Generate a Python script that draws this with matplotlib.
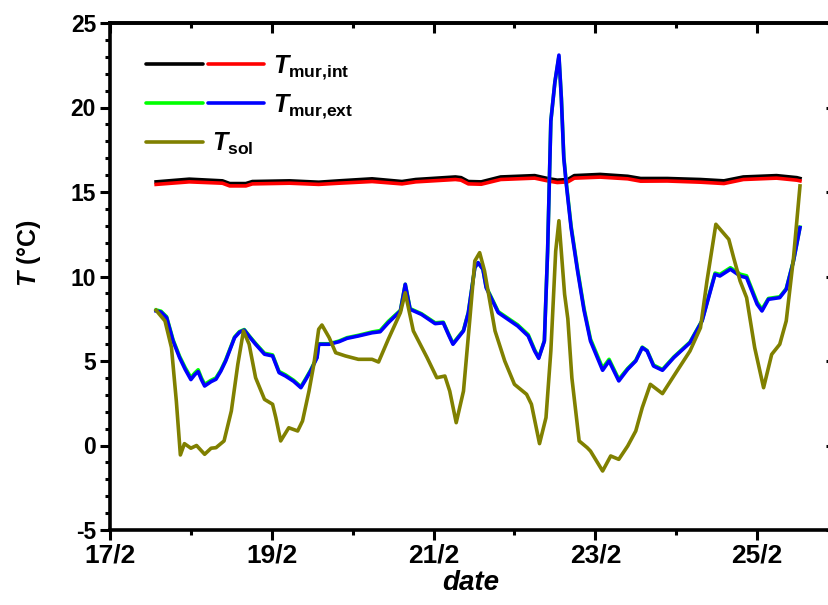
import matplotlib
matplotlib.use("Agg")
import matplotlib.pyplot as plt
from matplotlib.ticker import MultipleLocator, FixedLocator, FixedFormatter

plt.rcParams["font.family"] = ["Liberation Sans", "DejaVu Sans"]
plt.rcParams["font.weight"] = "bold"
plt.rcParams["axes.unicode_minus"] = False
plt.rcParams["mathtext.fontset"] = "custom"
plt.rcParams["mathtext.it"] = "Liberation Sans:italic:bold"
plt.rcParams["mathtext.rm"] = "Liberation Sans:bold"
plt.rcParams["mathtext.bf"] = "Liberation Sans:bold"

# ── data (day of February, temperature in °C) ──
t_int = [17.57, 17.98, 18.39, 18.48, 18.68, 18.76, 19.22, 19.58, 19.83, 20.24,
         20.61, 20.78, 21.27, 21.34, 21.43, 21.59, 21.83, 22.25, 22.41, 22.53,
         22.66, 22.74, 23.06, 23.40, 23.56, 23.89, 24.30, 24.59, 24.83, 25.24,
         25.49, 25.53]
T_int_black = [15.60, 15.76, 15.66, 15.50, 15.50, 15.62, 15.66, 15.58, 15.66, 15.78,
               15.62, 15.74, 15.89, 15.85, 15.62, 15.60, 15.89, 15.97, 15.80, 15.70,
               15.74, 15.97, 16.04, 15.93, 15.80, 15.80, 15.74, 15.66, 15.89, 15.97,
               15.85, 15.80]
T_int_red = [15.45, 15.60, 15.52, 15.36, 15.36, 15.48, 15.52, 15.45, 15.52, 15.62,
             15.48, 15.60, 15.74, 15.70, 15.48, 15.46, 15.74, 15.82, 15.66, 15.56,
             15.60, 15.82, 15.88, 15.78, 15.64, 15.65, 15.58, 15.50, 15.74, 15.82,
             15.70, 15.66]

t_ext = [17.57, 17.63, 17.70, 17.78, 17.86, 17.93, 18.00, 18.05, 18.09, 18.13,
         18.17, 18.25, 18.31, 18.37, 18.43, 18.54, 18.60, 18.66, 18.73, 18.80,
         18.91, 19.01, 19.09, 19.17, 19.27, 19.36, 19.42, 19.48, 19.56, 19.58,
         19.71, 19.83, 19.93, 20.07, 20.24, 20.34, 20.44, 20.59, 20.65, 20.71,
         20.85, 21.02, 21.12, 21.19, 21.24, 21.37, 21.43, 21.51, 21.55, 21.61,
         21.65, 21.80, 22.04, 22.17, 22.25, 22.30, 22.37, 22.41, 22.45, 22.50,
         22.55, 22.58, 22.61, 22.64, 22.70, 22.78, 22.86, 22.94, 23.09, 23.17,
         23.29, 23.40, 23.50, 23.58, 23.64, 23.72, 23.83, 23.97, 24.17, 24.32,
         24.48, 24.54, 24.67, 24.79, 24.87, 25.00, 25.06, 25.14, 25.28, 25.36,
         25.45, 25.53]
T_ext_green = [8.02, 7.95, 7.62, 6.25, 5.28, 4.60, 4.02, 4.30, 4.48, 4.00,
               3.62, 3.86, 4.00, 4.46, 5.06, 6.42, 6.74, 6.86, 6.44, 6.04,
               5.46, 5.36, 4.38, 4.18, 3.86, 3.48, 3.96, 4.46, 5.24, 6.02,
               6.02, 6.18, 6.38, 6.52, 6.72, 6.80, 7.34, 8.00, 9.54, 8.10,
               7.80, 7.26, 7.30, 6.56, 6.04, 6.82, 7.88, 10.52, 10.82, 10.45,
               9.40, 7.92, 7.14, 6.56, 5.66, 5.20, 6.20, 11.5, 19.2, 21.5,
               23.0, 20.6, 17.1, 15.6, 13.0, 10.45, 8.12, 6.30, 4.58, 5.10,
               3.92, 4.56, 5.04, 5.82, 5.62, 4.76, 4.50, 5.24, 6.12, 7.40,
               10.20, 10.12, 10.52, 10.14, 10.04, 8.48, 8.06, 8.70, 8.80, 9.28,
               10.94, 12.92]
T_ext_blue = [7.96, 7.90, 7.56, 6.18, 5.20, 4.50, 3.90, 4.20, 4.37, 3.90,
              3.52, 3.78, 3.92, 4.40, 5.00, 6.38, 6.70, 6.83, 6.40, 5.99,
              5.40, 5.30, 4.31, 4.11, 3.80, 3.42, 3.90, 4.41, 5.20, 5.99,
              5.99, 6.14, 6.34, 6.48, 6.67, 6.73, 7.26, 7.96, 9.54, 8.06,
              7.76, 7.21, 7.26, 6.50, 5.99, 6.78, 7.86, 10.52, 10.82, 10.43,
              9.34, 7.86, 7.07, 6.48, 5.59, 5.16, 6.18, 11.5, 19.2, 21.5,
              23.1, 20.5, 17.0, 15.5, 12.89, 10.33, 8.00, 6.18, 4.45, 5.00,
              3.82, 4.51, 5.00, 5.79, 5.59, 4.70, 4.45, 5.20, 6.08, 7.37,
              10.13, 10.03, 10.43, 10.03, 9.93, 8.36, 7.96, 8.65, 8.75, 9.24,
              10.92, 12.89]

t_sol = [17.57, 17.68, 17.76, 17.82, 17.87, 17.92, 18.00, 18.07, 18.17, 18.25,
         18.31, 18.41, 18.50, 18.58, 18.65, 18.72, 18.80, 18.91, 19.01, 19.05,
         19.11, 19.21, 19.32, 19.38, 19.46, 19.52, 19.58, 19.62, 19.71, 19.79,
         19.91, 20.07, 20.24, 20.32, 20.44, 20.59, 20.65, 20.75, 20.92, 21.04,
         21.14, 21.20, 21.28, 21.37, 21.45, 21.51, 21.57, 21.63, 21.76, 21.88,
         22.00, 22.15, 22.21, 22.31, 22.39, 22.45, 22.51, 22.55, 22.62, 22.66,
         22.71, 22.80, 22.90, 22.94, 23.09, 23.19, 23.29, 23.40, 23.50, 23.58,
         23.68, 23.83, 24.01, 24.17, 24.30, 24.38, 24.49, 24.65, 24.71, 24.79,
         24.87, 24.97, 25.08, 25.18, 25.28, 25.36, 25.45, 25.53]
T_sol = [8.00, 7.37, 5.79, 2.63, -0.56, 0.11, -0.16, 0.00, -0.52, -0.16,
         -0.13, 0.27, 2.04, 4.80, 6.78, 5.99, 4.01, 2.73, 2.44, 1.65,
         0.27, 1.05, 0.86, 1.45, 3.22, 4.80, 6.88, 7.13, 6.38, 5.49,
         5.30, 5.10, 5.10, 4.94, 6.28, 7.86, 9.04, 6.78, 5.20, 4.01,
         4.11, 3.22, 1.35, 3.22, 7.56, 10.92, 11.41, 10.33, 6.78, 5.00,
         3.62, 3.03, 2.44, 0.11, 1.65, 5.59, 11.5, 13.3, 8.95, 7.50,
         4.00, 0.27, -0.13, -0.33, -1.51, -0.62, -0.82, -0.03, 0.86, 2.24,
         3.62, 3.07, 4.41, 5.59, 6.97, 9.73, 13.09, 12.20, 11.11, 9.73,
         8.75, 5.79, 3.42, 5.39, 5.99, 7.37, 11.11, 15.36]

x_ticks = [17, 19, 21, 23, 25]
x_labels = ["17/2", "19/2", "21/2", "23/2", "25/2"]

W, H = 829, 605
fig = plt.figure(figsize=(W / 100, H / 100), dpi=100)
# axes frame in pixels: left 110, right 838 (just past the picture edge), top 23, bottom 530
ax = fig.add_axes([110 / W, (H - 530) / H, 728 / W, 507 / H])

LW = 2.6
ax.plot(t_int, T_int_black, color="black", lw=LW)
ax.plot(t_int, T_int_red, color="red", lw=LW)
ax.plot(t_ext, T_ext_green, color="#00FF00", lw=LW)
ax.plot(t_ext, T_ext_blue, color="blue", lw=LW)
ax.plot(t_sol, T_sol, color="#808000", lw=LW)

ax.set_xlim(17, 26)
ax.set_ylim(-5, 25)

for s in ax.spines.values():
    s.set_linewidth(2.6)

ax.xaxis.set_major_locator(FixedLocator(x_ticks))
ax.xaxis.set_major_formatter(FixedFormatter(x_labels))
ax.xaxis.set_minor_locator(MultipleLocator(1))
ax.yaxis.set_major_locator(MultipleLocator(5))
ax.yaxis.set_minor_locator(MultipleLocator(1))
ax.tick_params(which="major", direction="out", length=7, width=2.2)
ax.tick_params(which="minor", direction="out", length=3.6, width=2.2)
ax.tick_params(axis="x", labelsize=19, pad=3)
ax.tick_params(axis="y", labelsize=16.5, pad=3)

# mirrored ticks on top and right, pointing inward
top = ax.secondary_xaxis("top")
top.xaxis.set_major_locator(FixedLocator(x_ticks))
top.xaxis.set_minor_locator(MultipleLocator(1))
top.tick_params(which="major", direction="in", length=7, width=2.2, labeltop=False)
top.tick_params(which="minor", direction="in", length=3.6, width=2.2)
top.spines["top"].set_linewidth(2.6)
right = ax.secondary_yaxis("right")
right.yaxis.set_major_locator(MultipleLocator(5))
right.yaxis.set_minor_locator(MultipleLocator(1))
right.tick_params(which="major", direction="in", length=9, width=2.2, labelright=False)
right.tick_params(which="minor", direction="in", length=3.6, width=2.2)

ax.set_xlabel("date", fontsize=20, fontstyle="italic", fontweight="bold")
ax.xaxis.set_label_coords(0.495, -0.078)
ax.set_ylabel(r"$T$ (°C)", fontsize=18, fontweight="bold")
ax.yaxis.set_label_coords(-0.092, 0.546)

# ── legend drawn by hand (Origin style) ──
def px(x, y):
    return x / W, 1 - y / H

rows = [
    (64, ["black", "red"], r"$T_{\rm mur{,}int}$", 273),
    (102.5, ["#00FF00", "blue"], r"$T_{\rm mur{,}ext}$", 273),
    (141.5, ["#808000"], r"$T_{\rm sol}$", 212),
]
segs = [(146, 203), (208, 264)]
for y, cols, label, tx in rows:
    for (x0, x1), c in zip(segs, cols):
        (a0, b0), (a1, b1) = px(x0, y), px(x1, y)
        fig.add_artist(plt.Line2D([a0, a1], [b0, b1], color=c, lw=LW,
                                  solid_capstyle="round", transform=fig.transFigure))
    fig.text(*px(tx, y + 9.3), label, fontsize=18, ha="left", va="baseline")

plt.savefig("out.png", dpi=100, facecolor="white")
plt.close()
